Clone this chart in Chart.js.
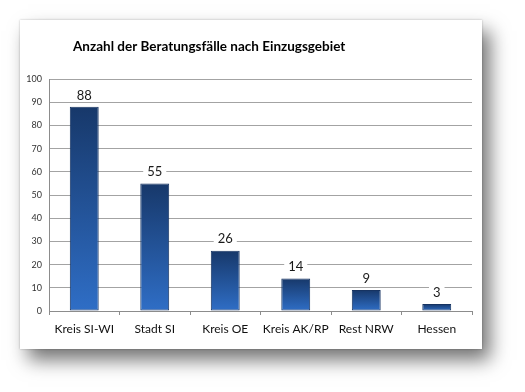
<!DOCTYPE html>
<html>
<head>
<meta charset="utf-8">
<script src="https://cdn.jsdelivr.net/npm/chart.js@4/dist/chart.umd.min.js"></script>
<style>
html,body{margin:0;padding:0;background:#fff;width:525px;height:392px;overflow:hidden;}
#panel{position:absolute;left:20px;top:20px;width:462px;height:329px;background:#fff;
box-shadow:0 0 2px rgba(0,0,0,0.25), 8px 11px 18px rgba(0,0,0,0.55);}
canvas{display:block;}
</style>
</head>
<body>
<div id="panel"><canvas id="c" width="462" height="329"></canvas></div>
<script>
const chartTitle = 'Anzahl der Beratungsfälle nach Einzugsgebiet';
const categories = ['Kreis SI-WI', 'Stadt SI', 'Kreis OE', 'Kreis AK/RP', 'Rest NRW', 'Hessen'];
const values = [88, 55, 26, 14, 9, 3];
const yTicks = [0, 10, 20, 30, 40, 50, 60, 70, 80, 90, 100];

const FONT = 'Lato, "Liberation Sans", sans-serif';

const titlePlugin = {
  id: 'customTitle',
  afterDraw(chart) {
    const ctx = chart.ctx;
    ctx.save();
    ctx.font = 'bold 13.5px ' + FONT;
    ctx.fillStyle = '#000';
    ctx.textAlign = 'left';
    ctx.textBaseline = 'middle';
    ctx.fillText(chartTitle, 53, 27);
    ctx.restore();
  }
};

const labelPlugin = {
  id: 'valueLabels',
  afterDatasetsDraw(chart) {
    const ctx = chart.ctx;
    const meta = chart.getDatasetMeta(0);
    ctx.save();
    ctx.font = '13px ' + FONT;
    ctx.textAlign = 'center';
    ctx.textBaseline = 'middle';
    meta.data.forEach((bar, i) => {
      const txt = String(chart.data.datasets[0].data[i]);
      const w = ctx.measureText(txt).width + 8;
      const cy = bar.y - 12;
      ctx.fillStyle = '#fff';
      ctx.fillRect(bar.x - w / 2, cy - 7, w, 14);
      ctx.fillStyle = '#1a1a1a';
      ctx.fillText(txt, bar.x, cy + 0.5);
    });
    ctx.restore();
  }
};

function barFill(context) {
  const chart = context.chart;
  const area = chart.chartArea;
  if (!area || !chart.scales.y) return '#245aa5';
  const v = context.raw;
  const top = chart.scales.y.getPixelForValue(v);
  const bottom = chart.scales.y.getPixelForValue(0);
  const g = chart.ctx.createLinearGradient(0, top, 0, bottom);
  g.addColorStop(0, '#17386a');
  g.addColorStop(1, '#2f6ec6');
  return g;
}

new Chart(document.getElementById('c'), {
  type: 'bar',
  data: {
    labels: categories,
    datasets: [{
      data: values,
      backgroundColor: barFill,
      borderColor: '#163361',
      borderWidth: 1,
      borderSkipped: false,
      barPercentage: 0.41,
      categoryPercentage: 1.0
    }]
  },
  options: {
    responsive: false,
    animation: false,
    devicePixelRatio: 1,
    layout: { padding: { top: 59, right: 10, left: 0, bottom: 0 } },
    plugins: { legend: { display: false }, title: { display: false }, tooltip: { enabled: false } },
    scales: {
      x: {
        afterFit(s) { s.height = 38; },
        grid: { drawOnChartArea: false, drawTicks: true, tickLength: 4, color: '#8c8c8c', offset: true },
        border: { color: '#8c8c8c', width: 1 },
        ticks: { color: '#111', font: { family: FONT, size: 12 }, padding: 7, maxRotation: 0, autoSkip: false }
      },
      y: {
        min: 0, max: 100,
        afterFit(s) { s.width = 29; },
        afterBuildTicks(s) { s.ticks = yTicks.map(v => ({ value: v })); },
        grid: { color: '#a3a3a3', lineWidth: 1, drawTicks: false },
        border: { color: '#8c8c8c', width: 1 },
        ticks: { color: '#333', font: { family: FONT, size: 9 }, padding: 7 }
      }
    }
  },
  plugins: [titlePlugin, labelPlugin]
});
</script>
</body>
</html>
